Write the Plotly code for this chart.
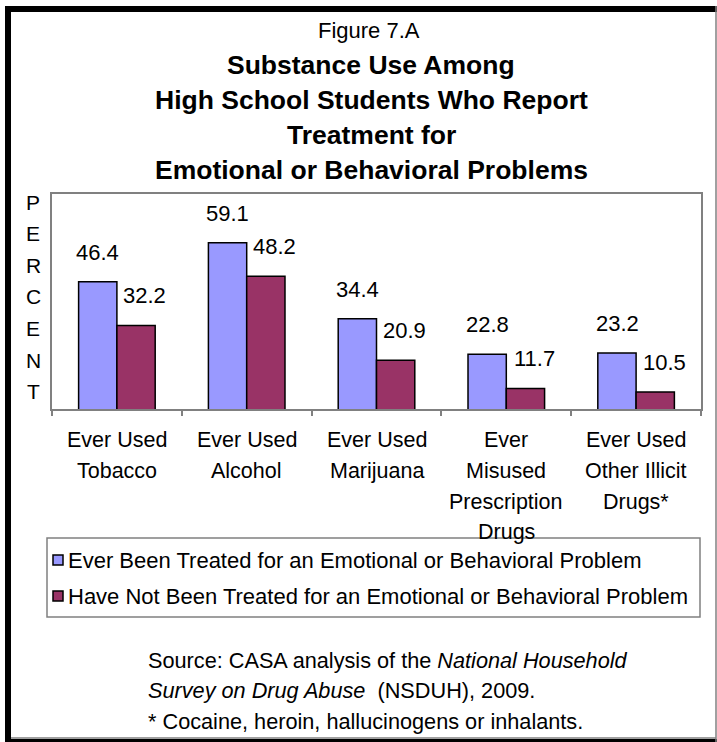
import plotly.graph_objects as go

# ---------------- data ----------------
categories = ["Tobacco", "Alcohol", "Marijuana", "Prescription", "Other"]
cat_label_lines = [
    ["Ever Used", "Tobacco"],
    ["Ever Used", "Alcohol"],
    ["Ever Used", "Marijuana"],
    ["Ever", "Misused", "Prescription", "Drugs"],
    ["Ever Used", "Other Illicit", "Drugs*"],
]
treated = [46.4, 59.1, 34.4, 22.8, 23.2]
not_treated = [32.2, 48.2, 20.9, 11.7, 10.5]
series_names = [
    "Ever Been Treated for an Emotional or Behavioral Problem",
    "Have Not Been Treated for an Emotional or Behavioral Problem",
]
title_small = "Figure 7.A"
title_lines = [
    "Substance Use Among",
    "High School Students Who Report",
    "Treatment for",
    "Emotional or Behavioral Problems",
]
axis_title = "PERCENT"
source_lines = [
    "Source: CASA analysis of the <i>National Household</i>",
    "<i>Survey on Drug Abuse</i>  (NSDUH), 2009.",
    "* Cocaine, heroin, hallucinogens or inhalants.",
]

# ---------------- style ----------------
W, H = 717, 742
PL, PR, PT, PB = 52, 701, 194, 409
FONT = "Liberation Sans, Arial, sans-serif"
BLUE = "#9999FF"
MAROON = "#993366"
GRAY = "#808080"


def xp(px):
    return (px - PL) / (PR - PL)


def yp(py):
    return (PB - py) / (PB - PT)


fig = go.Figure()
fig.add_trace(go.Bar(x=categories, y=treated, name=series_names[0],
                     marker=dict(color=BLUE, line=dict(color="black", width=1.5))))
fig.add_trace(go.Bar(x=categories, y=not_treated, name=series_names[1],
                     marker=dict(color=MAROON, line=dict(color="black", width=1.5))))

annotations = []
# data labels
for c, v in zip(categories, treated):
    annotations.append(dict(x=c, y=v, xref="x", yref="y", text=f"{v:.1f}",
                            showarrow=False, xanchor="center", yanchor="bottom",
                            xshift=-19, yshift=15, font=dict(size=22)))
for c, v in zip(categories, not_treated):
    annotations.append(dict(x=c, y=v, xref="x", yref="y", text=f"{v:.1f}",
                            showarrow=False, xanchor="center", yanchor="bottom",
                            xshift=28, yshift=15, font=dict(size=22)))

# category labels
line_y = [440, 471, 502, 532]
for c, lines in zip(categories, cat_label_lines):
    for i, t in enumerate(lines):
        annotations.append(dict(x=c, y=yp(line_y[i]), xref="x", yref="paper",
                                text=t, showarrow=False, xanchor="center",
                                yanchor="middle", font=dict(size=21.5)))

# axis title letters
for i, ch in enumerate(axis_title):
    annotations.append(dict(x=xp(33), y=yp(202 + i * 31.6), xref="paper", yref="paper",
                            text=ch, showarrow=False, xanchor="center",
                            yanchor="middle", font=dict(size=21)))

# titles
annotations.append(dict(x=xp(369), y=yp(30), xref="paper", yref="paper",
                        text=title_small, showarrow=False, xanchor="center",
                        yanchor="middle", font=dict(size=22)))
for i, t in enumerate(title_lines):
    annotations.append(dict(x=xp(371), y=yp(65 + i * 35), xref="paper", yref="paper",
                            text=f"<b>{t}</b>", showarrow=False, xanchor="center",
                            yanchor="middle", font=dict(size=26.5)))

# legend (manual)
shapes = []
shapes.append(dict(type="rect", xref="paper", yref="paper",
                   x0=xp(47), x1=xp(700), y0=yp(538), y1=yp(617),
                   line=dict(color=GRAY, width=1.5), fillcolor="rgba(0,0,0,0)"))
for i, (nm, col) in enumerate(zip(series_names, [BLUE, MAROON])):
    cy = 560 + i * 36
    shapes.append(dict(type="rect", xref="paper", yref="paper",
                       x0=xp(53), x1=xp(63), y0=yp(cy - 5), y1=yp(cy + 5),
                       line=dict(color="black", width=1.5), fillcolor=col))
    annotations.append(dict(x=xp(66), y=yp(cy), xref="paper", yref="paper",
                            text=nm, showarrow=False, xanchor="left",
                            yanchor="middle", font=dict(size=22)))

# source
for i, t in enumerate(source_lines):
    annotations.append(dict(x=xp(146), y=yp(660 + i * 30.5), xref="paper", yref="paper",
                            text=t, showarrow=False, xanchor="left",
                            yanchor="middle", font=dict(size=21.7)))

# outer frame
shapes += [
    dict(type="rect", xref="paper", yref="paper", x0=xp(5), x1=xp(11), y0=yp(6), y1=yp(742),
         line=dict(width=0), fillcolor="black"),
    dict(type="rect", xref="paper", yref="paper", x0=xp(5), x1=xp(717), y0=yp(6), y1=yp(12),
         line=dict(width=0), fillcolor="black"),
    dict(type="rect", xref="paper", yref="paper", x0=xp(5), x1=xp(717), y0=yp(739), y1=yp(742),
         line=dict(width=0), fillcolor="black"),
    dict(type="line", xref="paper", yref="paper", x0=xp(716), x1=xp(716), y0=yp(6), y1=yp(742),
         line=dict(color=GRAY, width=1.5)),
    dict(type="line", xref="paper", yref="paper", x0=xp(11), x1=xp(716), y0=yp(738), y1=yp(738),
         line=dict(color=GRAY, width=1.5)),
]

fig.update_layout(
    width=W, height=H,
    margin=dict(l=PL, r=W - PR, t=PT, b=H - PB, pad=0),
    paper_bgcolor="white", plot_bgcolor="white",
    font=dict(family=FONT, color="black"),
    barmode="group", bargap=0.41, bargroupgap=0,
    showlegend=False,
    annotations=annotations, shapes=shapes,
)
fig.update_xaxes(showticklabels=False, showline=True, linecolor=GRAY, linewidth=1.5,
                 mirror=True, ticks="outside", tickson="boundaries", ticklen=5,
                 tickcolor=GRAY, tickwidth=1.5, showgrid=False, zeroline=False)
fig.update_yaxes(range=[5, 75], showticklabels=False, showline=True, linecolor=GRAY,
                 linewidth=1.5, mirror=True, ticks="", showgrid=False, zeroline=False)

fig.write_html(
    "out.html",
    config={"displayModeBar": False},
    post_script="document.body.style.margin='0';document.body.style.overflow='hidden';",
)
